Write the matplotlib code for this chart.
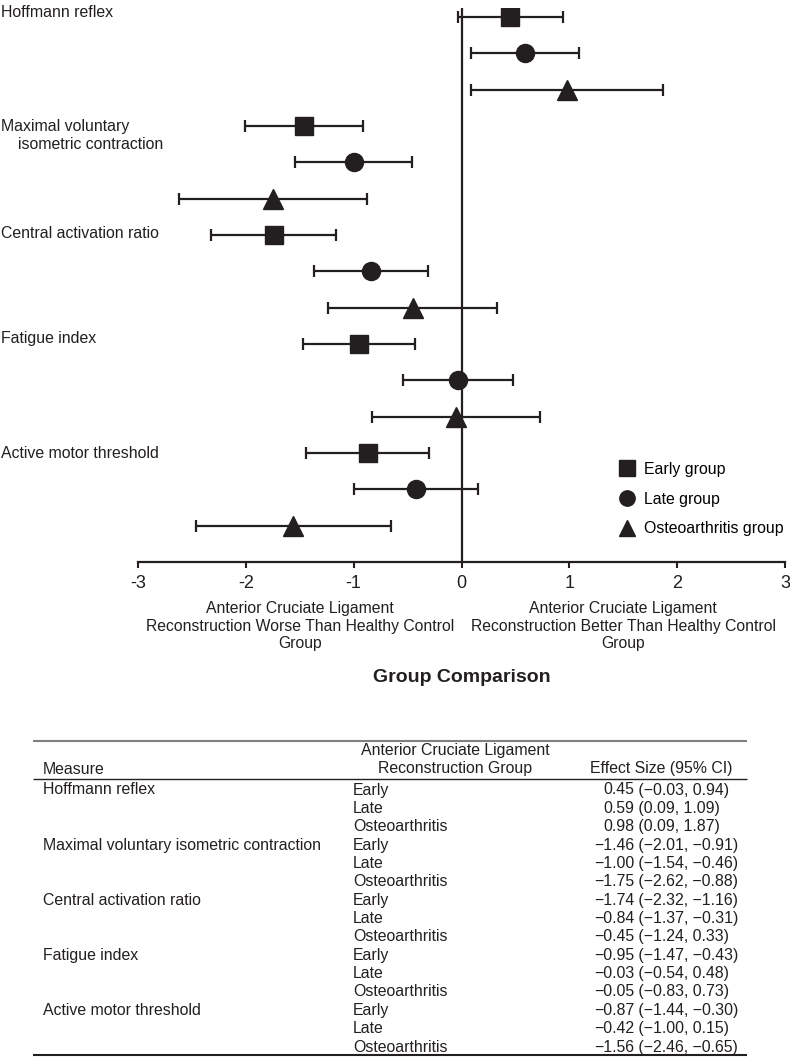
import numpy as np
import matplotlib.pyplot as plt
import matplotlib.transforms as mtransforms
from matplotlib.lines import Line2D

plt.rcParams['font.family'] = ['Liberation Sans', 'DejaVu Sans']
plt.rcParams['axes.unicode_minus'] = False

# measures (plot labels and table labels)
plot_labels = ['Hoffmann reflex', 'Maximal voluntary', 'Central activation ratio',
               'Fatigue index', 'Active motor threshold']
table_measures = ['Hoffmann reflex', 'Maximal voluntary isometric contraction',
                  'Central activation ratio', 'Fatigue index', 'Active motor threshold']
groups = ['Early', 'Late', 'Osteoarthritis']
legend_names = ['Early group', 'Late group', 'Osteoarthritis group']

# effect sizes and 95% CI, one array per group, in measure order
early_es = [0.45, -1.46, -1.74, -0.95, -0.87]
early_lo = [-0.03, -2.01, -2.32, -1.47, -1.44]
early_hi = [0.94, -0.91, -1.16, -0.43, -0.30]
late_es = [0.59, -1.00, -0.84, -0.03, -0.42]
late_lo = [0.09, -1.54, -1.37, -0.54, -1.00]
late_hi = [1.09, -0.46, -0.31, 0.48, 0.15]
oa_es = [0.98, -1.75, -0.45, -0.05, -1.56]
oa_lo = [0.09, -2.62, -1.24, -0.83, -2.46]
oa_hi = [1.87, -0.88, 0.33, 0.73, -0.65]

es_all = [early_es, late_es, oa_es]
lo_all = [early_lo, late_lo, oa_lo]
hi_all = [early_hi, late_hi, oa_hi]
markers = ['s', 'o', '^']
msizes = [13, 13, 14]

ink = '#231f20'
W, H = 790, 1057
fs = 11.4

fig = plt.figure(figsize=(W / 100, H / 100), dpi=100)
ax = fig.add_axes([138 / W, 1 - 562 / H, 647 / W, 554 / H])

nm = len(plot_labels)
for k in range(3):
    es = np.array(es_all[k])
    lo = np.array(lo_all[k])
    hi = np.array(hi_all[k])
    y = np.arange(nm) * 3 + k
    ax.errorbar(es, y, xerr=[es - lo, hi - es], fmt=markers[k], ms=msizes[k],
                color=ink, ecolor=ink, elinewidth=1.6, capsize=4, capthick=1.6,
                zorder=3)

ax.axvline(0, color=ink, lw=1.6, zorder=2)
ax.set_xlim(-3, 3)
ax.set_ylim(15, -0.25)
ax.set_yticks([])
ax.set_xticks(range(-3, 4))
for s in ['left', 'top', 'right']:
    ax.spines[s].set_visible(False)
ax.spines['bottom'].set_linewidth(1.6)
ax.spines['bottom'].set_color(ink)
ax.tick_params(axis='x', direction='out', length=4, width=1.5, color=ink,
               labelsize=13, labelcolor=ink, pad=5)

# measure labels on the left
lab_tr = mtransforms.blended_transform_factory(fig.transFigure, ax.transData)
offs = [-0.12, 0, -0.05, -0.15, 0]
for i, lab in enumerate(plot_labels):
    ax.text(1 / W, i * 3 + offs[i], lab, transform=lab_tr, fontsize=fs,
            color=ink, ha='left', va='center')
ax.text(18 / W, 3 + 0.5, 'isometric contraction', transform=lab_tr, fontsize=fs,
        color=ink, ha='left', va='center')

# legend
handles = [Line2D([], [], marker=m, ls='none', color=ink, ms=ms * 0.85)
           for m, ms in zip(markers, msizes)]
ax.legend(handles, legend_names, loc='center left',
          bbox_to_anchor=(619 / W, 1 - 499 / H), bbox_transform=fig.transFigure,
          frameon=False, fontsize=fs, handlelength=1, handletextpad=0.6,
          labelspacing=0.92, borderpad=0, borderaxespad=0)

# direction labels under the axis
sub_tr = mtransforms.blended_transform_factory(ax.transData, fig.transFigure)
ax.text(-1.5, 1 - 626 / H,
        'Anterior Cruciate Ligament\nReconstruction Worse Than Healthy Control\nGroup',
        transform=sub_tr, ha='center', va='center', fontsize=11.3, color=ink,
        linespacing=1.2)
ax.text(1.5, 1 - 626 / H,
        'Anterior Cruciate Ligament\nReconstruction Better Than Healthy Control\nGroup',
        transform=sub_tr, ha='center', va='center', fontsize=11.3, color=ink,
        linespacing=1.2)
ax.text(0, 1 - 678 / H, 'Group Comparison', transform=sub_tr, ha='center',
        va='center', fontsize=14, fontweight='bold', color=ink)

# table below, in pixel coordinates
tax = fig.add_axes([0, 0, 1, 1])
tax.set_xlim(0, W)
tax.set_ylim(H, 0)
tax.axis('off')

tax.hlines(741, 33, 747, lw=1.5, color='#808080')
tax.hlines(779, 33, 747, lw=1.0, color=ink)
tax.hlines(1055, 33, 747, lw=1.5, color=ink)

tax.text(43, 770, 'Measure', fontsize=fs, color=ink, va='center')
tax.text(455, 751, 'Anterior Cruciate Ligament', fontsize=fs, color=ink,
         ha='center', va='center')
tax.text(455, 769, 'Reconstruction Group', fontsize=fs, color=ink,
         ha='center', va='center')
tax.text(733, 769, 'Effect Size (95% CI)', fontsize=fs, color=ink,
         ha='right', va='center')


def fmt(v):
    return f'{v:.2f}'.replace('-', '\u2212')


row0, pitch = 790, 18.36
r = 0
for i in range(nm):
    for k in range(3):
        yy = row0 + r * pitch
        if k == 0:
            tax.text(43, yy, table_measures[i], fontsize=fs, color=ink, va='center')
        tax.text(353, yy, groups[k], fontsize=fs, color=ink, va='center')
        tax.text(634, yy, fmt(es_all[k][i]), fontsize=fs, color=ink,
                 ha='right', va='center')
        tax.text(634, yy, f' ({fmt(lo_all[k][i])}, {fmt(hi_all[k][i])})',
                 fontsize=fs, color=ink, ha='left', va='center')
        r += 1

fig.savefig('out.png', dpi=100)
